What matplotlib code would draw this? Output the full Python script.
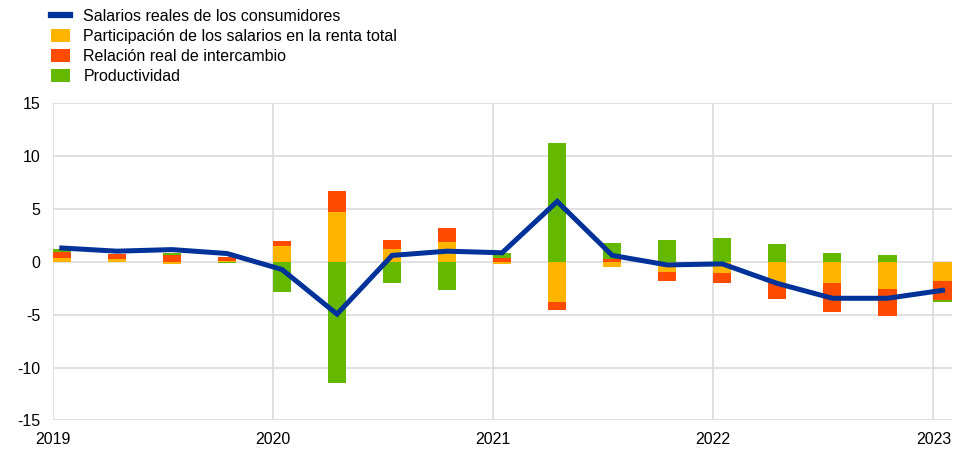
import matplotlib.pyplot as plt
from matplotlib.lines import Line2D
from matplotlib.patches import Patch
import numpy as np

plt.rcParams["font.family"] = ["Liberation Sans", "DejaVu Sans"]
plt.rcParams["axes.unicode_minus"] = False

# quarterly data, 2019Q1 .. 2023Q1
quarters = np.arange(17)
year_ticks = [0, 4, 8, 12, 16]
year_labels = ["2019", "2020", "2021", "2022", "2023"]

salarios = [1.3, 1.0, 1.15, 0.78, -0.73, -4.95, 0.6, 1.0, 0.85, 5.7,
            0.6, -0.3, -0.2, -2.05, -3.45, -3.45, -2.7]
participacion = [0.4, 0.3, -0.2, 0.05, 1.45, 4.7, 1.25, 1.9, -0.25, -3.8,
                 -0.5, -1.0, -1.1, -2.05, -2.0, -2.6, -1.85]
intercambio = [0.55, 0.4, 0.6, 0.4, 0.55, 2.0, 0.85, 1.3, 0.4, -0.8,
               0.3, -0.8, -0.9, -1.5, -2.75, -2.5, -1.75]
productividad = [0.3, 0.05, 0.25, -0.1, -2.9, -11.5, -2.0, -2.7, 0.45, 11.2,
                 1.5, 2.1, 2.2, 1.7, 0.87, 0.63, -0.18]

labels = ["Salarios reales de los consumidores",
          "Participación de los salarios en la renta total",
          "Relación real de intercambio",
          "Productividad"]
blue = "#003299"
colors = ["#ffb400", "#ff4b00", "#65b800"]

fig = plt.figure(figsize=(9.71, 4.5), dpi=100)
ax = fig.add_axes([0.0543, 0.0656, 0.9257, 0.7054])

width = 0.33
pos_bottom = np.zeros(len(quarters))
neg_bottom = np.zeros(len(quarters))
for series, c in zip([participacion, intercambio, productividad], colors):
    vals = np.array(series)
    bottom = np.where(vals >= 0, pos_bottom, neg_bottom)
    ax.bar(quarters, vals, width=width, bottom=bottom, align="edge",
           color=c, edgecolor="none", zorder=2)
    pos_bottom += np.where(vals >= 0, vals, 0)
    neg_bottom += np.where(vals < 0, vals, 0)

ax.plot(quarters + width / 2, salarios, color=blue, linewidth=3.6,
        solid_joinstyle="miter", zorder=3)

ax.set_xlim(0, 16.33)
ax.set_ylim(-15, 15)
ax.set_yticks(range(-15, 16, 5))
ax.set_xticks(year_ticks)
ax.set_xticklabels(year_labels)
ax.grid(True, color="#d9d9d9", linewidth=1.1, zorder=0)
for s in ax.spines.values():
    s.set_visible(False)
ax.tick_params(length=0, labelsize=11.5, colors="black")
ax.tick_params(axis="y", pad=9)
ax.tick_params(axis="x", pad=8)

handles = [Line2D([0], [0], color=blue, linewidth=4.5)] + \
          [Patch(facecolor=c, edgecolor="none") for c in colors]
fig.legend(handles, labels, loc="upper left", bbox_to_anchor=(0.043, 1.002),
           frameon=False, fontsize=11.5, handlelength=1.15, handleheight=0.85,
           handletextpad=0.85, labelspacing=0.32, borderaxespad=0.2)

fig.savefig("out.png", dpi=100)
